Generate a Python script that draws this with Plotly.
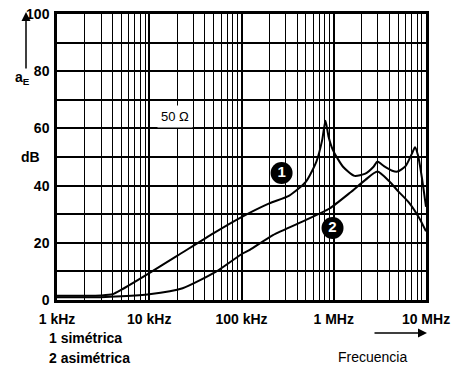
import plotly.graph_objects as go

# ---- data (frequency in kHz, attenuation in dB) ----
sym_freq_khz = [1, 2, 3, 4, 5, 10, 20, 50, 100, 200, 330, 500, 650, 750, 813, 880, 980, 1260, 1680, 2200, 2700, 2970, 3500, 4300, 4900, 6000, 7000, 7600, 8200, 9000, 10000]
sym_db = [1.5, 1.5, 1.6, 2.0, 3.6, 9.4, 15.4, 23.4, 29.0, 33.8, 36.5, 41.4, 48.5, 56.0, 62.7, 57.0, 52.4, 46.6, 43.4, 44.2, 46.6, 48.4, 46.8, 45.2, 44.9, 46.8, 51.0, 53.4, 50.5, 43.0, 32.6]

asym_freq_khz = [1, 3, 5, 10, 23, 53, 100, 123, 219, 500, 900, 1500, 2200, 2970, 4000, 5000, 6600, 8500, 10000]
asym_db = [1.0, 1.0, 1.3, 2.0, 4.1, 9.9, 16.0, 17.5, 22.7, 28.0, 32.0, 37.5, 42.0, 44.9, 41.5, 38.0, 33.9, 28.5, 24.0]

x_tick_vals_khz = [1, 10, 100, 1000, 10000]
x_tick_text = ["1 kHz", "10 kHz", "100 kHz", "1 MHz", "10 MHz"]
y_tick_vals = [0, 10, 20, 30, 40, 50, 60, 70, 80, 90, 100]
y_tick_text = ["0", "", "20", "", "40", "", "60", "", "80", "", "100"]

curve_labels = ["1", "2"]
curve_label_freq_khz = [272, 970]
curve_label_db = [44.4, 25.2]

FONT = "Liberation Sans"

minor_x = [m * 10 ** d * 1000 for d in range(0, 4) for m in range(2, 10)]

fig = go.Figure()
fig.add_trace(go.Scatter(x=[f * 1000 for f in sym_freq_khz], y=sym_db, mode="lines",
                         line=dict(color="black", width=2, shape="spline", smoothing=0.6),
                         showlegend=False, hoverinfo="skip"))
fig.add_trace(go.Scatter(x=[f * 1000 for f in asym_freq_khz], y=asym_db, mode="lines",
                         line=dict(color="black", width=2, shape="spline", smoothing=0.6),
                         showlegend=False, hoverinfo="skip"))
fig.add_trace(go.Scatter(x=[f * 1000 for f in curve_label_freq_khz], y=curve_label_db,
                         mode="markers+text", text=curve_labels,
                         marker=dict(size=22, color="black"),
                         textfont=dict(color="white", size=15, family=FONT, weight="bold"),
                         textposition="middle center", showlegend=False, hoverinfo="skip"))

fig.update_xaxes(type="log", range=[3, 7], automargin=False,
                 tickvals=[v * 1000 for v in x_tick_vals_khz], ticktext=x_tick_text,
                 showgrid=True, gridcolor="black", gridwidth=2.2,
                 minor=dict(tickvals=minor_x, showgrid=True, gridcolor="black", gridwidth=1.3, ticks=""),
                 showline=True, linecolor="black", linewidth=2.5, mirror=True,
                 ticks="", ticklabelstandoff=4,
                 tickfont=dict(family=FONT, size=14, color="black", weight="bold"))
fig.update_yaxes(range=[0, 100], tickvals=y_tick_vals, ticktext=y_tick_text, automargin=False,
                 showgrid=True, gridcolor="black", gridwidth=2,
                 zeroline=False,
                 showline=True, linecolor="black", linewidth=2.5, mirror=True,
                 ticks="", ticklabelstandoff=2,
                 tickfont=dict(family=FONT, size=14, color="black", weight="bold"))

L, R, T, B = 57, 34, 14, 66
W, H = 460, 366
pw, ph = W - L - R, H - T - B


def px(x):
    return (x - L) / pw


def py(y):
    return (H - B - y) / ph


anns = [
    dict(x=px(22), y=py(78), text="a<sub>E</sub>", font=dict(size=14, weight="bold")),
    dict(x=px(30), y=py(157), text="dB", font=dict(size=14, weight="bold")),
    dict(x=px(47), y=py(338), text="1 simétrica", xanchor="left", font=dict(size=14, weight="bold")),
    dict(x=px(47), y=py(358), text="2 asimétrica", xanchor="left", font=dict(size=14, weight="bold")),
    dict(x=px(372), y=py(357), text="Frecuencia", font=dict(size=14)),
]
for a in anns:
    a.setdefault("xanchor", "center")
    a.update(xref="paper", yref="paper", showarrow=False, yanchor="middle")
    a["font"].update(family=FONT, color="black")
    fig.add_annotation(**a)

# 50 ohm label
fig.add_annotation(x=1.277 + 3, y=64.3, xref="x", yref="y", text="50 Ω", showarrow=False,
                   font=dict(family=FONT, size=13, color="black"), bgcolor="white",
                   borderpad=3)

# arrows
fig.add_annotation(x=px(26), y=py(12), ax=0, ay=58, xref="paper", yref="paper",
                   axref="pixel", ayref="pixel", showarrow=True, arrowhead=2, arrowsize=1.2,
                   arrowwidth=1.5, arrowcolor="black", text="")
fig.add_annotation(x=px(427), y=py(333), ax=-54, ay=0, xref="paper", yref="paper",
                   axref="pixel", ayref="pixel", showarrow=True, arrowhead=2, arrowsize=1.2,
                   arrowwidth=1.5, arrowcolor="black", text="")

fig.update_layout(width=W, height=H, margin=dict(l=L, r=R, t=T, b=B, autoexpand=False),
                  plot_bgcolor="white", paper_bgcolor="white", showlegend=False)

fig.write_html("out.html", config={"displayModeBar": False},
               post_script="document.body.style.margin='0';document.body.style.overflow='hidden';")
